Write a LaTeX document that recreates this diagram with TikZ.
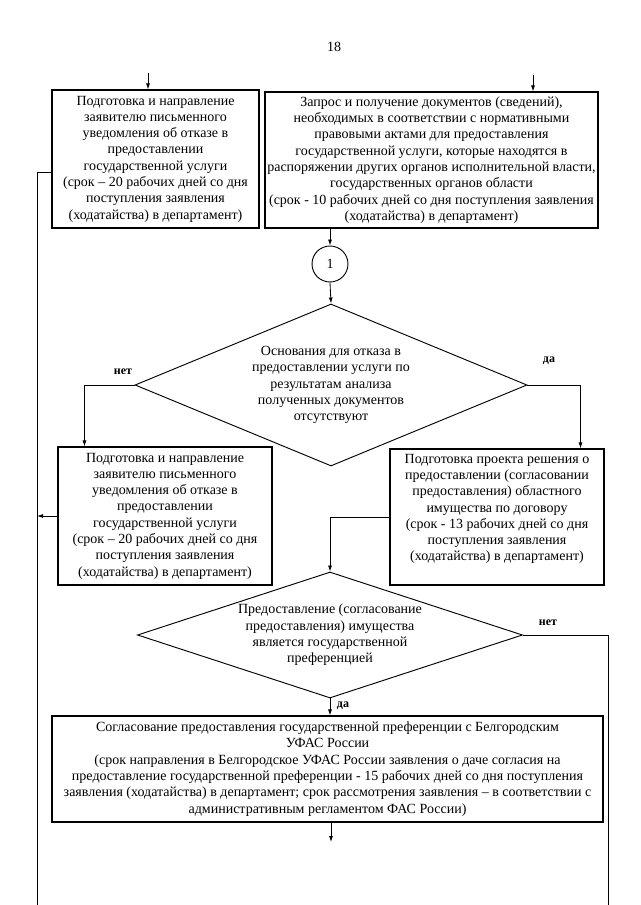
\documentclass[tikz,border=0pt]{standalone}
\usepackage{fontspec}
\setmainfont{Liberation Serif}
\usetikzlibrary{shapes.geometric,arrows.meta}

\begin{document}
\begin{tikzpicture}[x=0.75pt,y=0.75pt,yscale=-1,xscale=1,
	txt/.style={font=\fontsize{10.5}{12.2}\selectfont,align=center},
	box/.style={draw,txt,rectangle,inner sep=0pt,line width=0.8pt},
	cond/.style={draw,txt,diamond,inner sep=0pt,line width=0.7pt},
	lbl/.style={font=\fontsize{9}{10}\selectfont\bfseries,inner sep=0.75pt},
	flow/.style={line width=0.6pt},
	arr/.style={flow,-{Latex[length=4.5pt,width=3pt]}}]
		\useasboundingbox (0,0) rectangle (640,905);
		\node [txt] (page) at (334,47) {18};
		\node [box,minimum width=155.25pt,minimum height=103.5pt] (refusalA) at (155.5,159) {Подготовка и направление\\ заявителю письменного\\ уведомления об отказе в\\ предоставлении\\ государственной услуги\\ (срок – 20 рабочих дней со дня\\ поступления заявления\\ (ходатайства) в департамент)};
		\node [box,minimum width=249.75pt,minimum height=102pt] (request) at (431.5,160) {Запрос и получение документов (сведений),\\ необходимых в соответствии с нормативными\\ правовыми актами для предоставления\\ государственной услуги, которые находятся в\\ распоряжении других органов исполнительной власти,\\ государственных органов области\\ (срок - 10 рабочих дней со дня поступления заявления\\ (ходатайства) в департамент)};
		\node [draw,txt,circle,minimum size=27pt,inner sep=0pt,line width=0.7pt] (link) at (330,264) {1};
		\node [cond,aspect=2.42,minimum width=294pt,minimum height=121.5pt] (grounds) at (331,385) {Основания для отказа в\\ предоставлении услуги по\\ результатам анализа\\ полученных документов\\ отсутствуют};
		\node [box,minimum width=160.5pt,minimum height=103.5pt] (refusalB) at (165,516) {Подготовка и направление\\ заявителю письменного\\ уведомления об отказе в\\ предоставлении\\ государственной услуги\\ (срок – 20 рабочих дней со дня\\ поступления заявления\\ (ходатайства) в департамент)};
		\node [box,minimum width=160.5pt,minimum height=102pt] (draft) at (497,517) {Подготовка проекта решения о\\ предоставлении (согласовании\\ предоставления) областного\\ имущества по договору\\ (срок - 13 рабочих дней со дня\\ поступления заявления\\ (ходатайства) в департамент)\\[2pt]};
		\node [cond,aspect=3.06,minimum width=288.75pt,minimum height=94.5pt] (preference) at (330,635) {Предоставление (согласование\\ предоставления) имущества\\ является государственной\\ преференцией};
		\node [box,minimum width=413.25pt,minimum height=79.5pt] (approval) at (327.5,769) {Согласование предоставления государственной преференции с Белгородским\\ УФАС России\\ (срок направления в Белгородское УФАС России заявления о даче согласия на\\ предоставление государственной преференции - 15 рабочих дней со дня поступления\\ заявления (ходатайства) в департамент; срок рассмотрения заявления – в соответствии с\\ административным регламентом ФАС России)};
		\coordinate (inA) at (148,73);
		\coordinate (inB) at (533,75);
		\coordinate (backTop) at (37,172);
		\coordinate (backEnd) at (37,905);
		\coordinate (noEnd) at (608,905);
		\coordinate (out) at (331,842);
		\draw [arr] (inA) -- (inA |- refusalA.north);
		\draw [arr] (inB) -- (inB |- request.north);
		\draw [flow] (refusalA.west |- backTop) -- (backTop) -- (backEnd);
		\draw [arr] (link |- request.south) -- (link.north);
		\draw [arr] (link.south) -- (grounds.north);
		\draw [arr] (grounds.west) -| ([xshift=20.25pt]refusalB.north west);
		\draw [arr] (grounds.east) -| ([xshift=-18pt]draft.north east);
		\draw [arr] (refusalB.west) -- (refusalB.west -| backTop);
		\draw [arr] (draft.west) -| (preference.north);
		\draw [flow] (preference.east) -| (noEnd);
		\draw [arr] (preference.south) -- (preference.south |- approval.north);
		\draw [arr] (out |- approval.south) -- (out);
		\node [lbl] (noA) at (123,372) {нет};
		\node [lbl] (yesA) at (549,361) {да};
		\node [lbl] (noB) at (548,623) {нет};
		\node [lbl] (yesB) at (343,706) {да};
\end{tikzpicture}
\end{document}
